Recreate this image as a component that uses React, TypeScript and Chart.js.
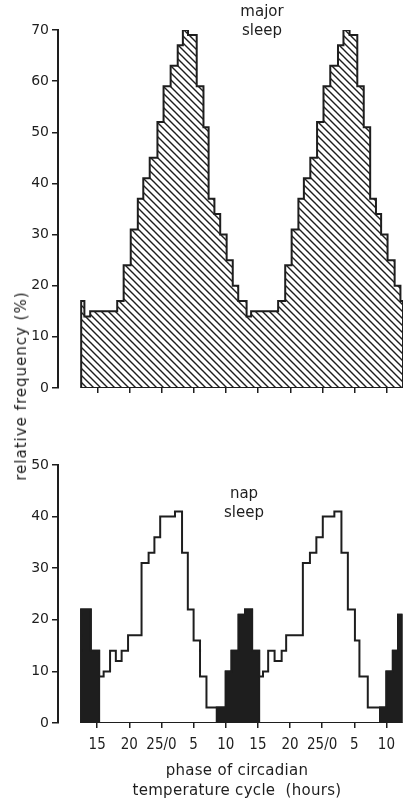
import React, { useEffect, useRef } from 'react';
import { Chart, registerables } from 'chart.js';

Chart.register(...registerables);

// ---- axis definition (hours on a double-plotted 25 h circadian cycle) ----
const AXIS_START = 12.5;
const AXIS_END = 62.5;
const X_MIN = 8.9;
const tickHours = [15, 20, 25, 30, 35, 40, 45, 50, 55, 60];
const tickLabels = ['15', '20', '25/0', '5', '10', '15', '20', '25/0', '5', '10'];

// ---- major sleep: bin start hour and relative frequency (%) ----
const majorStart = [
  12.5, 13.0, 13.9, 18.1, 19.1, 20.2, 21.3, 22.15, 23.15, 24.35,
  25.3, 26.4, 27.5, 28.3, 29.1, 30.45, 31.5, 32.3, 33.2, 34.1,
  35.1, 36.05, 36.9, 38.2, 38.9, 43.1, 44.2, 45.2, 46.25, 47.1,
  48.1, 49.15, 50.15, 51.2, 52.4, 53.25, 54.2, 55.4, 56.4, 57.4,
  58.3, 59.1, 60.1, 61.2, 62.1,
];
const majorValue = [
  17, 14, 15, 17, 24, 31, 37, 41, 45, 52,
  59, 63, 67, 70, 69, 59, 51, 37, 34, 30,
  25, 20, 17, 14, 15, 17, 24, 31, 37, 41,
  45, 52, 59, 63, 67, 70, 69, 59, 51, 37,
  34, 30, 25, 20, 17,
];

// ---- nap sleep: bin start hour, relative frequency (%), dark-filled bins ----
const napStart = [
  12.5, 14.0, 15.3, 16.0, 17.0, 17.9, 18.8, 19.8, 21.9, 23.0,
  23.9, 24.8, 27.1, 28.2, 29.1, 30.0, 31.0, 32.0, 33.6, 35.0,
  35.9, 37.0, 38.0, 39.1, 40.2, 40.8, 41.6, 42.6, 43.7, 44.4,
  47.0, 48.1, 49.1, 50.1, 51.9, 53.0, 54.0, 55.1, 55.8, 57.1,
  59.0, 60.0, 61.0, 61.8,
];
const napValue = [
  22, 14, 9, 10, 14, 12, 14, 17, 31, 33,
  36, 40, 41, 33, 22, 16, 9, 3, 3, 10,
  14, 21, 22, 14, 9, 10, 14, 12, 14, 17,
  31, 33, 36, 40, 41, 33, 22, 16, 9, 3,
  3, 10, 14, 21,
];
const napDark = [
  1, 1, 0, 0, 0, 0, 0, 0, 0, 0,
  0, 0, 0, 0, 0, 0, 0, 0, 1, 1,
  1, 1, 1, 1, 0, 0, 0, 0, 0, 0,
  0, 0, 0, 0, 0, 0, 0, 0, 0, 0,
  1, 1, 1, 1,
];

const INK = '#1e1e1e';
const FONT_NARROW = "'Liberation Sans Narrow', 'DejaVu Sans Condensed', 'Roboto Condensed', sans-serif";
const FONT_TEXT = "'DejaVu Sans', 'Noto Sans', sans-serif";

type Pt = { x: number; y: number };

function stepPoints(starts: number[], values: number[], end: number): Pt[] {
  const pts: Pt[] = [{ x: starts[0], y: 0 }];
  starts.forEach((s, i) => pts.push({ x: s, y: values[i] }));
  pts.push({ x: end, y: values[values.length - 1] });
  pts.push({ x: end, y: 0 });
  return pts;
}

function darkRuns(): Pt[][] {
  const runs: Pt[][] = [];
  let i = 0;
  while (i < napStart.length) {
    if (!napDark[i]) { i++; continue; }
    let j = i;
    while (j + 1 < napStart.length && napDark[j + 1]) j++;
    const end = j + 1 < napStart.length ? napStart[j + 1] : AXIS_END;
    runs.push(stepPoints(napStart.slice(i, j + 1), napValue.slice(i, j + 1), end));
    i = j + 1;
  }
  return runs;
}

function makeHatch(): CanvasPattern | string {
  const s = 7;
  const c = document.createElement('canvas');
  c.width = s;
  c.height = s;
  const g = c.getContext('2d');
  if (!g) return INK;
  g.strokeStyle = INK;
  g.lineWidth = 1.4;
  g.beginPath();
  for (const k of [-s, 0, s]) {
    g.moveTo(k - 1, -1);
    g.lineTo(k + s + 1, s + 1);
  }
  g.stroke();
  return g.createPattern(c, 'repeat') || INK;
}

function xScale(showLabels: boolean): any {
  return {
    type: 'linear',
    min: X_MIN,
    max: AXIS_END,
    border: { display: false },
    grid: { display: true, drawOnChartArea: false, drawTicks: true, tickLength: 5, color: INK, lineWidth: 1.5 },
    afterBuildTicks: (s: any) => { s.ticks = tickHours.map((v) => ({ value: v })); },
    ticks: {
      display: showLabels,
      autoSkip: false,
      maxRotation: 0,
      padding: 8,
      color: INK,
      font: { family: FONT_NARROW, size: 15 },
      callback: (v: any) => {
        const i = tickHours.indexOf(Number(v));
        return i >= 0 ? tickLabels[i] : '';
      },
    },
    afterFit: (s: any) => { s.height = showLabels ? 77 : 12; },
  };
}

function yScale(max: number): any {
  return {
    type: 'linear',
    min: 0,
    max,
    ticks: { stepSize: 10, color: INK, padding: 3, font: { family: FONT_TEXT, size: 14 } },
    grid: { drawOnChartArea: false, drawTicks: true, tickLength: 6, color: INK, lineWidth: 1.5 },
    border: { display: true, color: INK, width: 2 },
    afterFit: (s: any) => { s.width = 58; },
  };
}

const lineBase = {
  stepped: true,
  pointRadius: 0,
  borderColor: INK,
  borderWidth: 2,
  borderJoinStyle: 'miter',
  borderCapStyle: 'butt',
  tension: 0,
};

export default function App() {
  const topRef = useRef<HTMLCanvasElement>(null);
  const botRef = useRef<HTMLCanvasElement>(null);

  useEffect(() => {
    document.body.style.margin = '0';
    const hatch = makeHatch();
    const baseline: Pt[] = [{ x: AXIS_START, y: 0 }, { x: AXIS_END, y: 0 }];

    const top = new Chart(topRef.current as HTMLCanvasElement, {
      type: 'line',
      data: {
        datasets: [
          { ...lineBase, data: stepPoints(majorStart, majorValue, AXIS_END), fill: 'origin', backgroundColor: hatch } as any,
          { ...lineBase, stepped: false, data: baseline, fill: false } as any,
        ],
      },
      options: {
        animation: false,
        responsive: false,
        layout: { padding: { top: 30, right: 0, bottom: 0, left: 0 } },
        plugins: { legend: { display: false }, tooltip: { enabled: false } },
        scales: { x: xScale(false), y: yScale(70) },
      },
    });

    const dark = darkRuns().map((pts) => ({
      ...lineBase,
      data: pts,
      fill: 'origin',
      backgroundColor: INK,
    }));

    const bot = new Chart(botRef.current as HTMLCanvasElement, {
      type: 'line',
      data: {
        datasets: [
          { ...lineBase, data: stepPoints(napStart, napValue, AXIS_END), fill: false } as any,
          { ...lineBase, stepped: false, data: baseline, fill: false } as any,
          ...(dark as any[]),
        ],
      },
      options: {
        animation: false,
        responsive: false,
        layout: { padding: { top: 65, right: 0, bottom: 0, left: 0 } },
        plugins: { legend: { display: false }, tooltip: { enabled: false } },
        scales: { x: xScale(true), y: yScale(50) },
      },
    });

    return () => {
      top.destroy();
      bot.destroy();
    };
  }, []);

  const text: React.CSSProperties = {
    position: 'absolute',
    fontFamily: FONT_TEXT,
    fontSize: 15,
    color: INK,
    whiteSpace: 'nowrap',
    textAlign: 'center',
  };

  return (
    <div style={{ position: 'relative', width: 403, height: 800, background: '#fff', overflow: 'hidden' }}>
      <canvas ref={topRef} width={403} height={400} style={{ position: 'absolute', left: 0, top: 0, width: 403, height: 400 }} />
      <canvas ref={botRef} width={403} height={400} style={{ position: 'absolute', left: 0, top: 400, width: 403, height: 400 }} />
      <div style={{ ...text, left: 212, top: 2, width: 100, lineHeight: '19px' }}>major<br />sleep</div>
      <div style={{ ...text, left: 194, top: 484, width: 100, lineHeight: '19px' }}>nap<br />sleep</div>
      <div style={{ ...text, left: 87, top: 760, width: 300, lineHeight: '20px', letterSpacing: '0.3px' }}>
        phase of circadian<br />temperature cycle&nbsp; (hours)
      </div>
      <div
        style={{
          ...text,
          left: 21,
          top: 386,
          letterSpacing: '1px',
          transform: 'translate(-50%, -50%) rotate(-90deg)',
        }}
      >
        relative frequency (%)
      </div>
    </div>
  );
}
